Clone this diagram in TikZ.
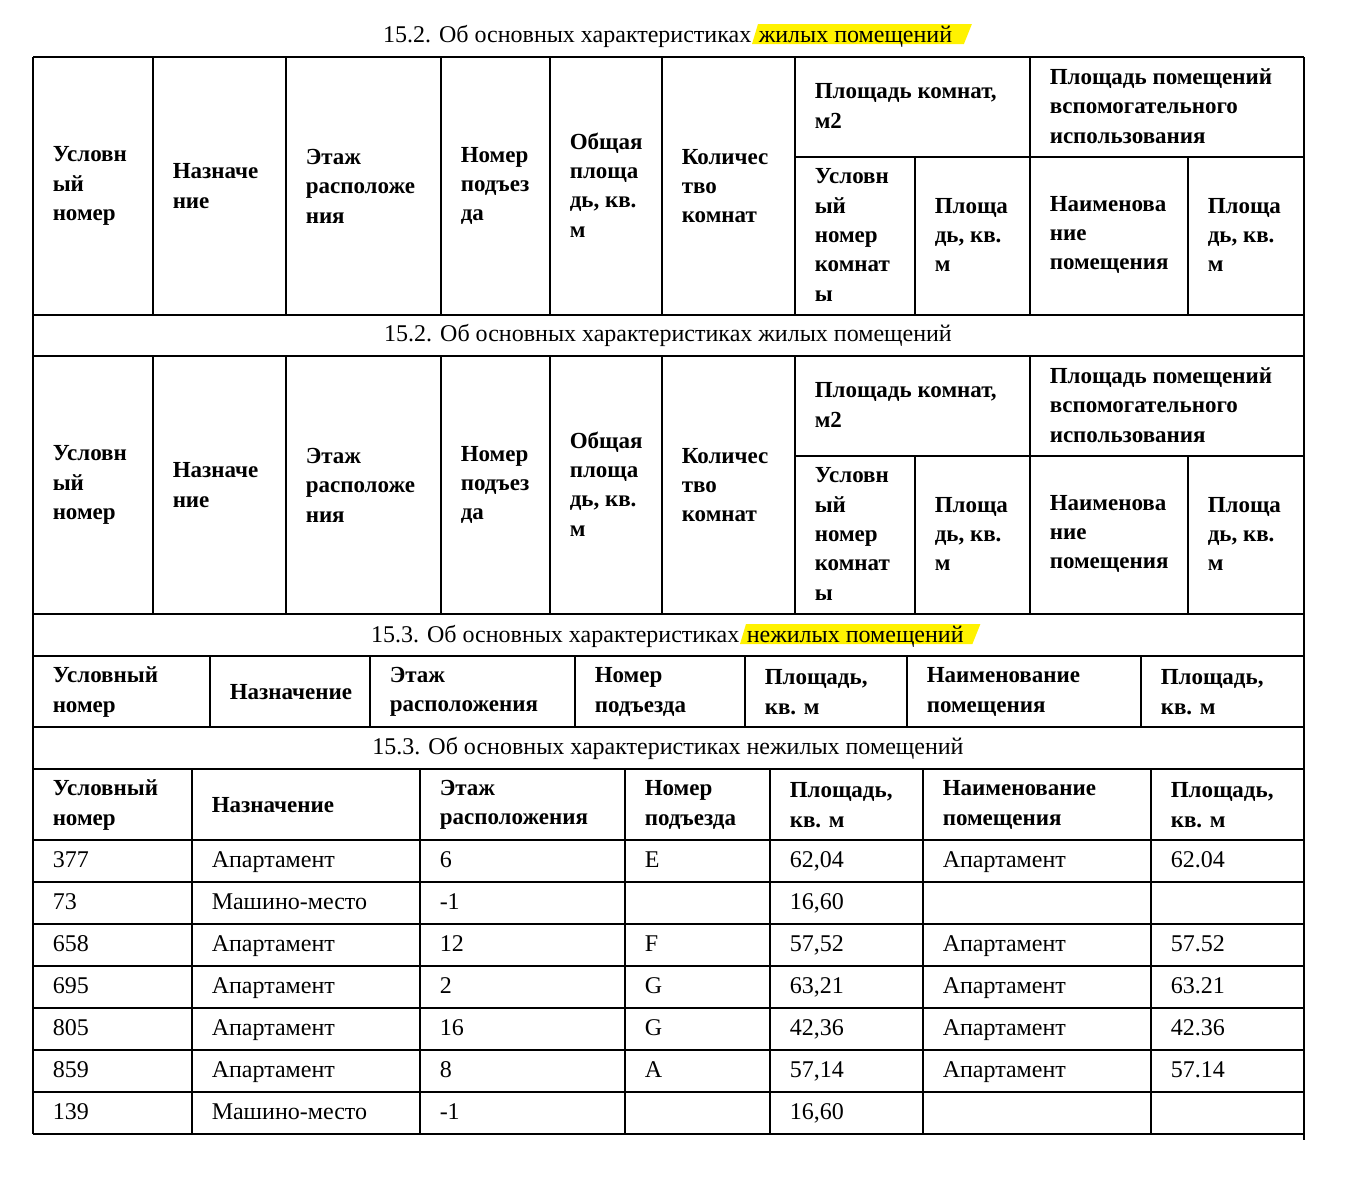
\documentclass[tikz,border=0pt]{standalone}
\usepackage{fontspec}
\setmainfont{Liberation Serif}
\usetikzlibrary{backgrounds}
\definecolor{marker}{RGB}{255,242,0}
\begin{document}
\begin{tikzpicture}[x=1pt,y=-1pt,line width=1.5pt,
  hdr/.style={anchor=west,align=left,inner sep=0pt,font=\fontsize{23}{29.4}\selectfont\bfseries},
  cell/.style={anchor=west,inner sep=0pt,text height=16pt,text depth=5pt,font=\fontsize{24}{29.4}\selectfont},
  ttl/.style={inner sep=0pt,font=\fontsize{24}{29.4}\selectfont}]

\useasboundingbox (0,0) rectangle (1350,1192);

% The heading over the table
\node[ttl,anchor=base east] (ttlA) at (752,42) {15.2. Об основных характеристиках};
\node[ttl,anchor=base west] (ttlB) at ([xshift=6pt]ttlA.base east) {жилых помещений};
\begin{scope}[on background layer]
\fill[marker] ([xshift=-6pt,yshift=-2pt]ttlB.base west) -- ([yshift=18pt]ttlB.base west)
  -- ([xshift=19pt,yshift=18pt]ttlB.base east) -- ([xshift=11pt,yshift=-2pt]ttlB.base east) -- cycle;
\end{scope}

% The outer frame and the full rules
\draw (33,57) -- (33,1134);
\draw (1304,57) -- (1304,1140);
\foreach \y in {57,315,356,614,656,727,769,840,882,924,966,1008,1050,1092,1134}
	\draw (33,\y) -- (1304,\y);

% The two blocks for living rooms
\foreach \dy in {0,299}
{
	\foreach \x in {153,286,441,550,662,795,1030}
		\draw (\x,57+\dy) -- (\x,315+\dy);
	\draw (795,157+\dy) -- (1304,157+\dy);
	\draw (915,157+\dy) -- (915,315+\dy);
	\draw (1188,157+\dy) -- (1188,315+\dy);

	\node[hdr] (num\dy) at (52,186+\dy) {Условн\\ый\\номер};
	\node[hdr] (use\dy) at (172,186+\dy) {Назначе\\ние};
	\node[hdr] (flr\dy) at (305,186+\dy) {Этаж\\расположе\\ния};
	\node[hdr] (ent\dy) at (460,186+\dy) {Номер\\подъез\\да};
	\node[hdr] (tot\dy) at (569,185+\dy) {Общая\\площа\\дь, кв.\\м};
	\node[hdr] (cnt\dy) at (681,186+\dy) {Количес\\тво\\комнат};
	\node[hdr] (rms\dy) at (814,106+\dy) {Площадь комнат,\\м2};
	\node[hdr] (aux\dy) at (1049,106+\dy) {Площадь помещений\\вспомогательного\\использования};
	\node[hdr] (rnum\dy) at (814,235+\dy) {Условн\\ый\\номер\\комнат\\ы};
	\node[hdr] (rar\dy) at (934,235+\dy) {Площа\\дь, кв.\\м};
	\node[hdr] (anam\dy) at (1049,235+\dy) {Наименова\\ние\\помещения};
	\node[hdr] (aar\dy) at (1207,235+\dy) {Площа\\дь, кв.\\м};
}
\node[ttl] (ttl2) at (668,335) {15.2. Об основных характеристиках жилых помещений};

% Non-living rooms
\node[ttl,anchor=base east] (ttlC) at (740,642) {15.3. Об основных характеристиках};
\node[ttl,anchor=base west] (ttlD) at ([xshift=6pt]ttlC.base east) {нежилых помещений};
\begin{scope}[on background layer]
\fill[marker] ([xshift=-6pt,yshift=-2pt]ttlD.base west) -- ([yshift=18pt]ttlD.base west)
  -- ([xshift=16pt,yshift=18pt]ttlD.base east) -- ([xshift=8pt,yshift=-2pt]ttlD.base east) -- cycle;
\end{scope}
\node[ttl] (ttl4) at (668,748) {15.3. Об основных характеристиках нежилых помещений};

\foreach \x in {210,370,575,745,907,1141}
	\draw (\x,656) -- (\x,727);
\node[hdr] (nnum) at (52,692) {Условный\\номер};
\node[hdr] (nuse) at (229,692) {Назначение};
\node[hdr] (nflr) at (389,692) {Этаж\\расположения};
\node[hdr] (nent) at (594,692) {Номер\\подъезда};
\node[hdr] (nar) at (764,692) {Площадь,\\кв. м};
\node[hdr] (nnam) at (926,692) {Наименование\\помещения};
\node[hdr] (nar2) at (1160,692) {Площадь,\\кв. м};

\foreach \x in {192,420,625,770,923,1151}
	\draw (\x,769) -- (\x,1134);
\node[hdr] (lnum) at (52,805) {Условный\\номер};
\node[hdr] (luse) at (211,805) {Назначение};
\node[hdr] (lflr) at (439,805) {Этаж\\расположения};
\node[hdr] (lent) at (644,805) {Номер\\подъезда};
\node[hdr] (lar) at (789,805) {Площадь,\\кв. м};
\node[hdr] (lnam) at (942,805) {Наименование\\помещения};
\node[hdr] (lar2) at (1170,805) {Площадь,\\кв. м};

% The data rows
\foreach \i/\a/\b/\c/\d/\e/\f/\g in {0/377/Апартамент/6/E/{62,04}/Апартамент/62.04,
	1/73/Машино-место/-1/{}/{16,60}/{}/{},
	2/658/Апартамент/12/F/{57,52}/Апартамент/57.52,
	3/695/Апартамент/2/G/{63,21}/Апартамент/63.21,
	4/805/Апартамент/16/G/{42,36}/Апартамент/42.36,
	5/859/Апартамент/8/A/{57,14}/Апартамент/57.14,
	6/139/Машино-место/-1/{}/{16,60}/{}/{}}
{
	\node[cell] (r\i a) at (52,862+42*\i) {\a};
	\node[cell] (r\i b) at (211,862+42*\i) {\b};
	\node[cell] (r\i c) at (439,862+42*\i) {\c};
	\node[cell] (r\i d) at (644,862+42*\i) {\d};
	\node[cell] (r\i e) at (789,862+42*\i) {\e};
	\node[cell] (r\i f) at (942,862+42*\i) {\f};
	\node[cell] (r\i g) at (1170,862+42*\i) {\g};
}

\end{tikzpicture}
\end{document}
